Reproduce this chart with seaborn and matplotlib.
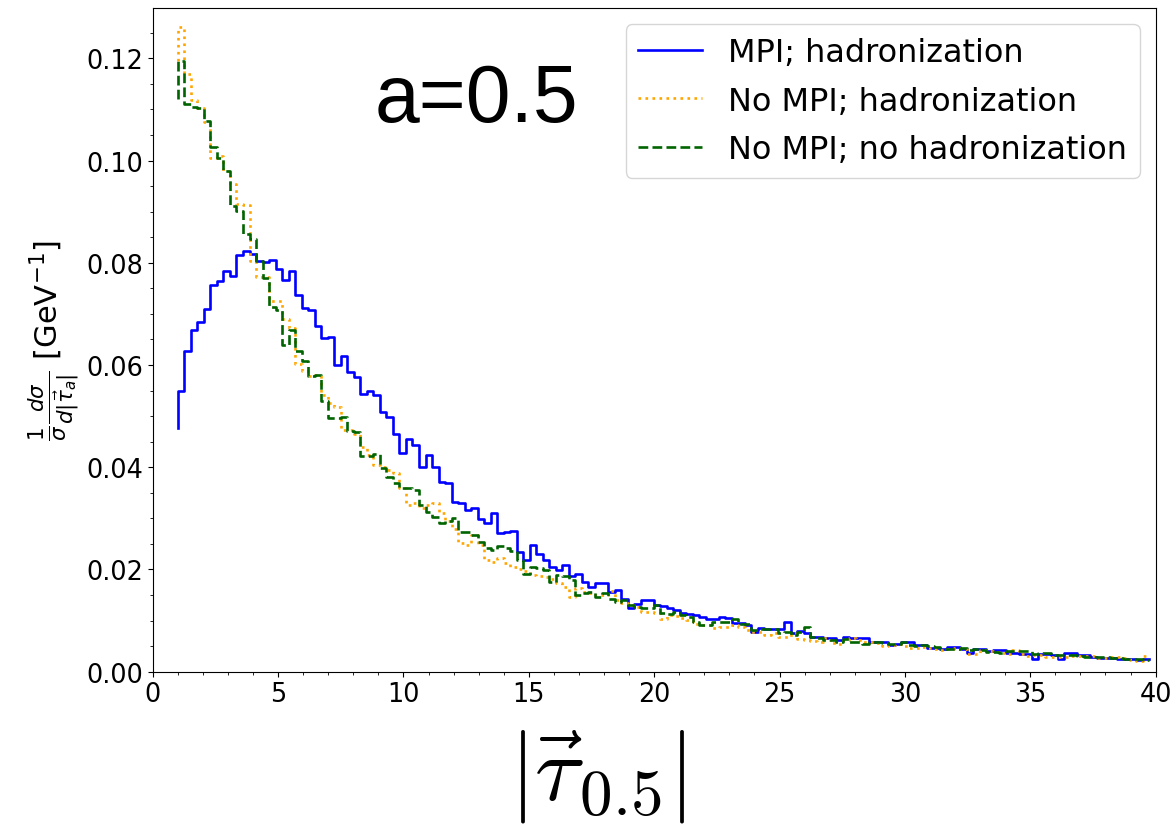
import numpy as np
import matplotlib
matplotlib.use("Agg")
import matplotlib.pyplot as plt
import seaborn as sns

# bin grid: 150 bins between 1 and 40, plotted at left edges (steps-pre)
bins = np.linspace(1, 40, 151)[:-1]

# MPI; hadronization
mpi_had = [
    0.0476, 0.0550, 0.0627, 0.0669, 0.0684, 0.0710, 0.0756, 0.0765, 0.0784, 0.0774,
    0.0815, 0.0823, 0.0818, 0.0803, 0.0802, 0.0806, 0.0787, 0.0767, 0.0784, 0.0736,
    0.0712, 0.0708, 0.0676, 0.0653, 0.0654, 0.0599, 0.0617, 0.0586, 0.0576, 0.0543,
    0.0550, 0.0542, 0.0508, 0.0499, 0.0465, 0.0427, 0.0455, 0.0444, 0.0401, 0.0424,
    0.0401, 0.0372, 0.0369, 0.0331, 0.0329, 0.0316, 0.0321, 0.0299, 0.0290, 0.0310,
    0.0271, 0.0273, 0.0275, 0.0235, 0.0218, 0.0248, 0.0231, 0.0218, 0.0205, 0.0199,
    0.0208, 0.0188, 0.0192, 0.0176, 0.0166, 0.0173, 0.0173, 0.0155, 0.0159, 0.0143,
    0.0124, 0.0133, 0.0140, 0.0140, 0.0131, 0.0129, 0.0125, 0.0120, 0.0114, 0.0112,
    0.0110, 0.0107, 0.0104, 0.0104, 0.0107, 0.0105, 0.0096, 0.0096, 0.0092, 0.0078,
    0.0086, 0.0083, 0.0083, 0.0083, 0.0097, 0.0075, 0.0080, 0.0075, 0.0068, 0.0068,
    0.0065, 0.0065, 0.0061, 0.0068, 0.0065, 0.0065, 0.0065, 0.0059, 0.0059, 0.0058,
    0.0052, 0.0055, 0.0058, 0.0058, 0.0053, 0.0052, 0.0046, 0.0046, 0.0045, 0.0048,
    0.0048, 0.0045, 0.0037, 0.0045, 0.0045, 0.0040, 0.0042, 0.0042, 0.0037, 0.0037,
    0.0035, 0.0035, 0.0025, 0.0035, 0.0035, 0.0033, 0.0025, 0.0037, 0.0037, 0.0032,
    0.0032, 0.0029, 0.0027, 0.0027, 0.0027, 0.0024, 0.0024, 0.0025, 0.0022, 0.0025,
]

# No MPI; hadronization
nompi_had = [
    0.1195, 0.1262, 0.1169, 0.1118, 0.1103, 0.1075, 0.1005, 0.1009, 0.0980, 0.0955,
    0.0914, 0.0913, 0.0803, 0.0772, 0.0772, 0.0726, 0.0725, 0.0690, 0.0673, 0.0601,
    0.0588, 0.0578, 0.0580, 0.0542, 0.0525, 0.0517, 0.0473, 0.0473, 0.0465, 0.0439,
    0.0424, 0.0405, 0.0400, 0.0395, 0.0388, 0.0359, 0.0327, 0.0329, 0.0320, 0.0326,
    0.0329, 0.0310, 0.0294, 0.0280, 0.0251, 0.0248, 0.0267, 0.0248, 0.0218, 0.0215,
    0.0222, 0.0212, 0.0205, 0.0200, 0.0197, 0.0190, 0.0188, 0.0186, 0.0182, 0.0173,
    0.0166, 0.0146, 0.0163, 0.0156, 0.0153, 0.0150, 0.0150, 0.0157, 0.0140, 0.0135,
    0.0130, 0.0127, 0.0117, 0.0117, 0.0114, 0.0104, 0.0110, 0.0109, 0.0105, 0.0101,
    0.0094, 0.0092, 0.0091, 0.0086, 0.0088, 0.0088, 0.0091, 0.0088, 0.0081, 0.0078,
    0.0078, 0.0071, 0.0075, 0.0068, 0.0068, 0.0075, 0.0064, 0.0061, 0.0060, 0.0059,
    0.0065, 0.0057, 0.0055, 0.0061, 0.0065, 0.0061, 0.0058, 0.0058, 0.0057, 0.0050,
    0.0052, 0.0055, 0.0050, 0.0046, 0.0046, 0.0048, 0.0047, 0.0044, 0.0042, 0.0044,
    0.0046, 0.0045, 0.0035, 0.0035, 0.0042, 0.0040, 0.0039, 0.0037, 0.0035, 0.0042,
    0.0035, 0.0030, 0.0032, 0.0033, 0.0029, 0.0029, 0.0029, 0.0029, 0.0031, 0.0031,
    0.0031, 0.0031, 0.0027, 0.0027, 0.0029, 0.0029, 0.0026, 0.0022, 0.0020, 0.0031,
]

# No MPI; no hadronization
nompi_nohad = [
    0.1120, 0.1195, 0.1110, 0.1104, 0.1103, 0.1078, 0.1027, 0.1005, 0.0980, 0.0911,
    0.0901, 0.0856, 0.0846, 0.0803, 0.0771, 0.0713, 0.0708, 0.0639, 0.0668, 0.0627,
    0.0607, 0.0578, 0.0580, 0.0530, 0.0496, 0.0496, 0.0499, 0.0471, 0.0468, 0.0422,
    0.0422, 0.0426, 0.0398, 0.0380, 0.0369, 0.0360, 0.0359, 0.0356, 0.0326, 0.0313,
    0.0303, 0.0290, 0.0295, 0.0300, 0.0274, 0.0273, 0.0267, 0.0254, 0.0241, 0.0238,
    0.0245, 0.0241, 0.0236, 0.0218, 0.0192, 0.0205, 0.0202, 0.0199, 0.0176, 0.0190,
    0.0188, 0.0179, 0.0150, 0.0153, 0.0156, 0.0146, 0.0153, 0.0143, 0.0137, 0.0140,
    0.0130, 0.0127, 0.0125, 0.0124, 0.0130, 0.0114, 0.0112, 0.0117, 0.0110, 0.0107,
    0.0097, 0.0091, 0.0091, 0.0097, 0.0097, 0.0097, 0.0103, 0.0094, 0.0094, 0.0081,
    0.0084, 0.0084, 0.0084, 0.0075, 0.0078, 0.0072, 0.0078, 0.0088, 0.0068, 0.0065,
    0.0061, 0.0061, 0.0059, 0.0063, 0.0058, 0.0058, 0.0055, 0.0059, 0.0059, 0.0057,
    0.0055, 0.0055, 0.0058, 0.0053, 0.0050, 0.0053, 0.0050, 0.0048, 0.0045, 0.0045,
    0.0045, 0.0047, 0.0042, 0.0045, 0.0043, 0.0038, 0.0038, 0.0037, 0.0040, 0.0040,
    0.0040, 0.0040, 0.0035, 0.0037, 0.0037, 0.0033, 0.0033, 0.0032, 0.0032, 0.0031,
    0.0029, 0.0029, 0.0029, 0.0029, 0.0027, 0.0027, 0.0025, 0.0025, 0.0024, 0.0022,
]

labels = ["MPI; hadronization", "No MPI; hadronization", "No MPI; no hadronization"]

fig = plt.figure(figsize=(11.75, 8.28), dpi=100)
ax = fig.add_axes([0.13, 0.1876, 0.8535, 0.8013])

sns.lineplot(x=bins, y=mpi_had, ax=ax, color="blue", lw=1.9,
             drawstyle="steps-pre", label=labels[0])
sns.lineplot(x=bins, y=nompi_had, ax=ax, color="orange", lw=1.9, ls=":",
             drawstyle="steps-pre", label=labels[1])
sns.lineplot(x=bins, y=nompi_nohad, ax=ax, color="darkgreen", lw=1.9, ls="--",
             drawstyle="steps-pre", label=labels[2])

ax.set_xlim(0, 40)
ax.set_ylim(0, 0.1298)
ax.minorticks_on()
ax.tick_params(labelsize=18.4)
ax.set_ylabel(r"$\frac{1}{\sigma}\frac{d\sigma}{d|\vec{\tau}_a|}$ [GeV$^{-1}$]", fontsize=22)
ax.legend(loc="upper right", fontsize=23, labelspacing=0.55)

ax.text(0.3229, 0.83, "a=0.5", transform=ax.transAxes, fontsize=58,
        family="Liberation Sans", ha="center", va="baseline")

# big axis label, sitting right at the bottom edge
fig.text(0.5085, 0.003, r"$|\vec{\tau}_{0.5}|$", fontsize=67, ha="center", va="bottom",
         math_fontfamily="cm")

fig.savefig("out.png", dpi=100)
